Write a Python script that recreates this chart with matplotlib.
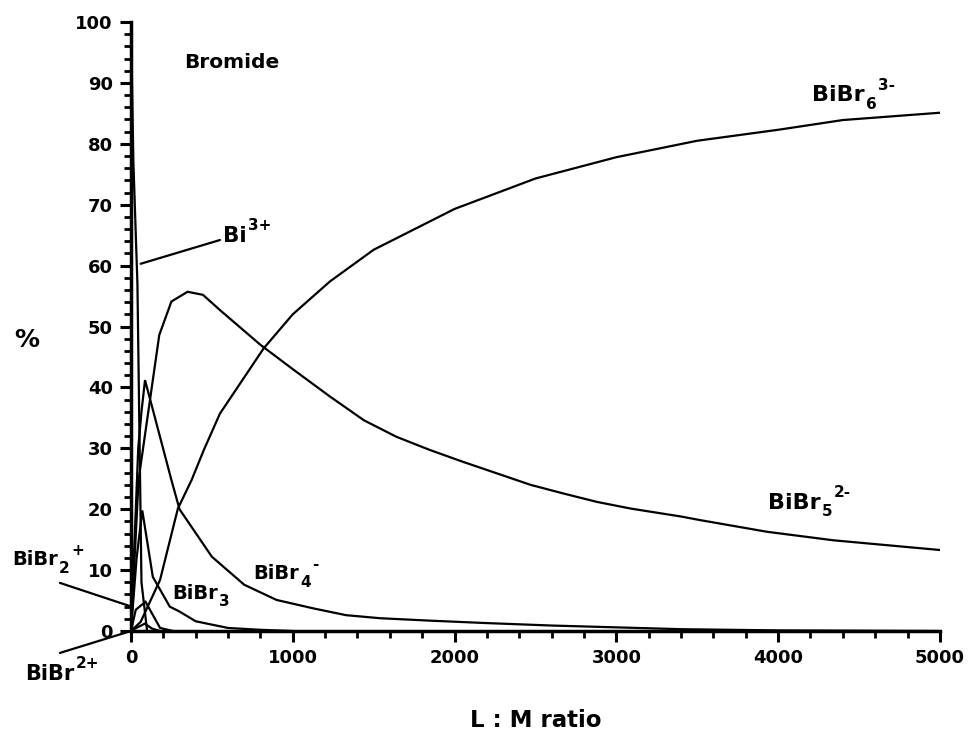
import numpy as np
import matplotlib
matplotlib.use("Agg")
import matplotlib.pyplot as plt
from matplotlib.ticker import MultipleLocator

plt.rcParams.update({'font.family': ['DejaVu Sans'], 'font.weight': 'bold'})

# --- DATA ---
bi_x = [0, 15, 40, 65, 100]
bi_y = [100, 77, 57, 8, 0]

bibr_x = [0, 40, 85, 130, 180]
bibr_y = [0, 0.6, 1.2, 0.4, 0]

bibr2_x = [0, 30, 90, 180, 260]
bibr2_y = [0, 3.5, 4.8, 0.5, 0]

bibr3_x = [0, 35, 70, 135, 240, 300, 400, 600, 800, 1000]
bibr3_y = [0, 12, 19.8, 8.9, 4.0, 3.2, 1.6, 0.5, 0.2, 0]

bibr4_x = [0, 45, 65, 87, 250, 300, 500, 700, 900, 1130, 1330, 1540, 1850, 2200,
           2600, 3000, 3400, 4000, 5000]
bibr4_y = [0, 30, 36, 41.2, 24.8, 20, 12.2, 7.6, 5.1, 3.7, 2.6, 2.1, 1.7, 1.3,
           0.9, 0.6, 0.3, 0.1, 0]

bibr5_x = [0, 47, 175, 250, 350, 445, 550, 800, 1000, 1230, 1440, 1640, 1850,
           2050, 2260, 2470, 2670, 2880, 3090, 3400, 3520, 3930, 4340, 5000]
bibr5_y = [0, 24.8, 48.6, 54.1, 55.7, 55.2, 52.7, 47.0, 43.0, 38.5, 34.6, 31.9,
           29.7, 27.8, 25.9, 24.0, 22.6, 21.2, 20.1, 18.8, 18.2, 16.3, 14.9, 13.3]

bibr6_x = [0, 60, 180, 290, 375, 450, 550, 820, 1000, 1230, 1500, 2000, 2500,
           3000, 3500, 4000, 4400, 5000]
bibr6_y = [0, 1.5, 8.4, 20.1, 24.8, 29.7, 35.7, 46.4, 52.0, 57.4, 62.6, 69.3,
           74.3, 77.8, 80.5, 82.3, 83.9, 85.1]

series = [(bi_x, bi_y), (bibr_x, bibr_y), (bibr2_x, bibr2_y), (bibr3_x, bibr3_y),
          (bibr4_x, bibr4_y), (bibr5_x, bibr5_y), (bibr6_x, bibr6_y)]

x_ticks = [0, 1000, 2000, 3000, 4000, 5000]
y_ticks = list(range(0, 101, 10))

# --- FIGURE ---
fig = plt.figure(figsize=(9.7, 7.48), dpi=100)
ax = fig.add_axes([0.135, 0.1564, 0.834, 0.8142])

for xs, ys in series:
    ax.plot(xs, ys, color='black', lw=1.6, solid_joinstyle='miter')

ax.set_xlim(0, 5000)
ax.set_ylim(0, 100)
ax.set_xticks(x_ticks)
ax.set_yticks(y_ticks)
ax.xaxis.set_minor_locator(MultipleLocator(200))
ax.yaxis.set_minor_locator(MultipleLocator(2))
for s in ['top', 'right']:
    ax.spines[s].set_visible(False)
ax.spines['left'].set_linewidth(2.5)
ax.spines['bottom'].set_linewidth(2.5)
ax.tick_params(which='major', length=8, width=2.2, labelsize=13, pad=5)
ax.tick_params(which='minor', length=5, width=2.0)
for lab in ax.get_xticklabels() + ax.get_yticklabels():
    lab.set_fontweight('bold')

ax.set_xlabel('L : M ratio', fontsize=16.5, fontweight='bold', labelpad=30)
fig.text(0.028, 0.545, '%', fontsize=18, fontweight='bold', ha='center', va='center')


def chem(x, y, base, sub='', sup='', size=15, ssize=11):
    """ Formula label: base text, subscript after it, superscript after that. """
    t = ax.text(x, y, base, fontsize=size, fontweight='bold', ha='left',
                va='center', clip_on=False)
    kw = dict(fontsize=ssize, fontweight='bold', ha='left', va='center',
              textcoords='offset points', annotation_clip=False)
    right = t
    if sub:
        right = ax.annotate(sub, xy=(1, 0.05), xycoords=t, xytext=(1, 0), **kw)
    if sup:
        ax.annotate(sup, xy=(1, 1), xycoords=(right, t), xytext=(1, 0), **kw)


def leader(x0, y0, x1, y1):
    ax.annotate('', xy=(x1, y1), xytext=(x0, y0), annotation_clip=False,
                arrowprops=dict(arrowstyle='-', lw=1.6, color='black',
                                shrinkA=0, shrinkB=0))


# --- LABELS ---
ax.text(327, 93.3, 'Bromide', fontsize=14.5, fontweight='bold', ha='left', va='center')
chem(567, 64.9, 'Bi', sup='3+', size=15.5)
leader(550, 64.2, 60, 60.3)
chem(4209, 88.0, 'BiBr', '6', '3-', size=16)
chem(3937, 21.1, 'BiBr', '5', '2-', size=16)
chem(754, 9.4, 'BiBr', '4', '-', size=14)
chem(253, 6.2, 'BiBr', '3', size=14)
chem(-735, 11.7, 'BiBr', '2', '+', size=14)
leader(-439, 7.9, 4, 4.0)
chem(-655, -7.0, 'BiBr', sup='2+', size=15)
leader(-439, -3.6, 0, 0)

fig.savefig('out.png', dpi=100)
